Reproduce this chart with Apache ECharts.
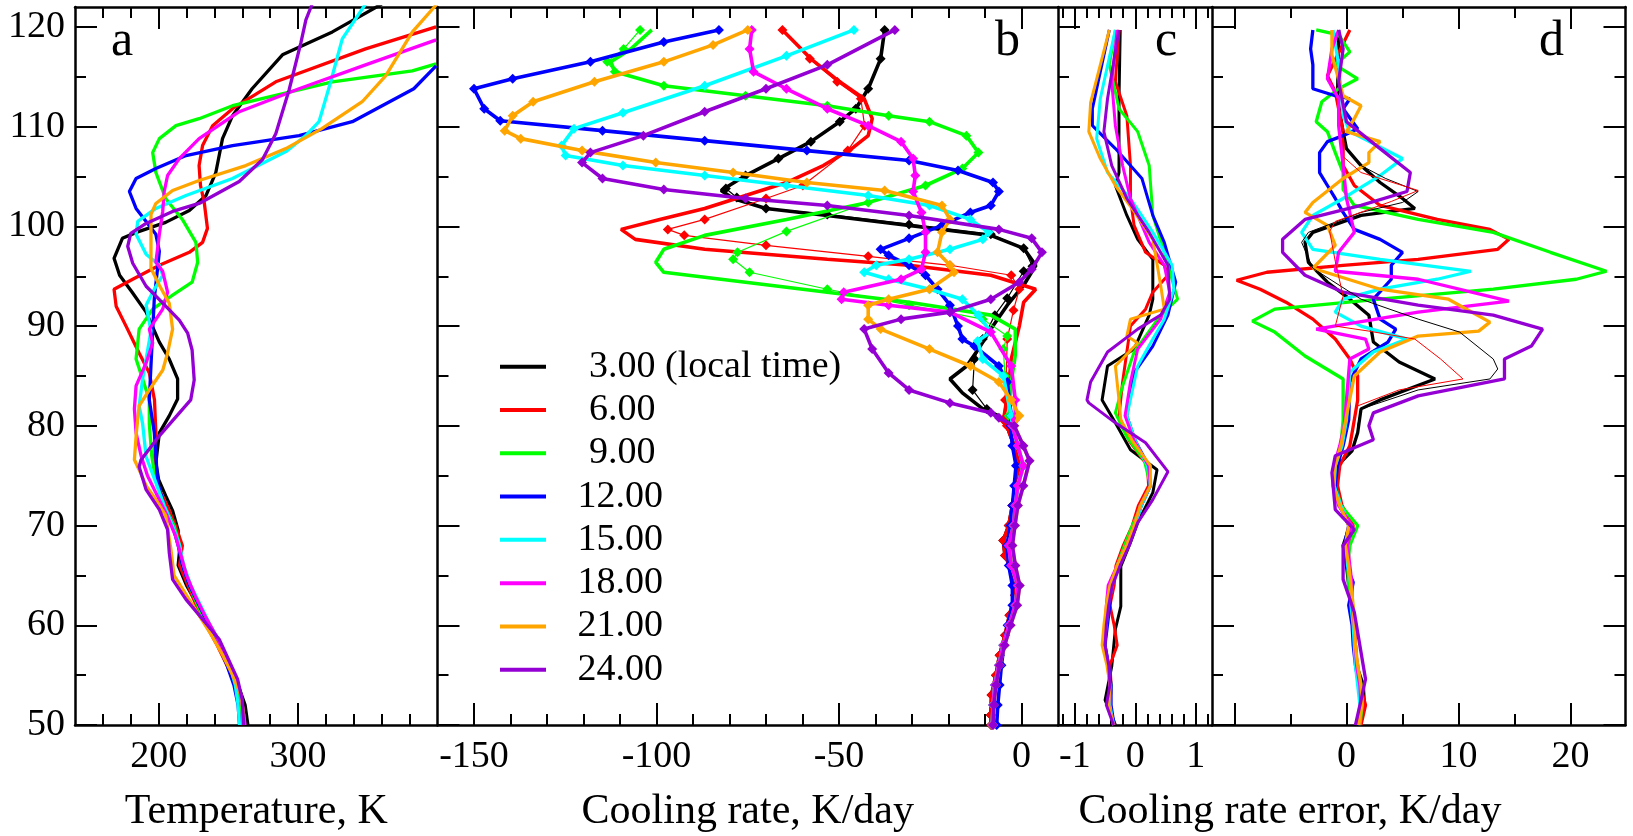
<!DOCTYPE html>
<html>
<head>
<meta charset="utf-8">
<title>Cooling rate profiles</title>
<script src="https://cdn.jsdelivr.net/npm/echarts@6/dist/echarts.min.js"></script>
<style>
    html, body { margin: 0; padding: 0; background: #fff; }
    #main { width: 1633px; height: 836px; }
</style>
</head>
<body>
<div id="main"></div>
<script>
    // ---- legend names / colours (xmgrace defaults) ----
    var times = ['3.00 (local time)', '6.00', '9.00', '12.00', '15.00', '18.00', '21.00', '24.00'];
    var colors = ['#000000', '#ff0000', '#00ff00', '#0000ff', '#00ffff', '#ff00ff', '#ffa500', '#9400d3'];

    // ---- ticks ----
    var yMajor = [50, 60, 70, 80, 90, 100, 110, 120];
    var yMinor = [55, 65, 75, 85, 95, 105, 115];
    var tempMajor = [200, 300];
    var tempMinor = [160, 180, 220, 240, 260, 280, 320, 340, 360, 380];
    var crMajor = [-150, -100, -50, 0];
    var crMinor = [-140, -130, -120, -110, -90, -80, -70, -60, -40, -30, -20, -10];
    var errCMajor = [-1, 0, 1];
    var errCMinor = [-1.2, -0.8, -0.6, -0.4, -0.2, 0.2, 0.4, 0.6, 0.8, 1.2];
    var errDMajor = [-10, 0, 10, 20];
    var errDLabels = [0, 10, 20];
    var errDMinor = [-5, 5, 15];

    // ---- panel a: temperature [K, km] ----
    var temp03 = [[360,122.3],[324.6,119.5],[288.8,117.2],[267,113.8],[253,111.1],[245.8,108.8],[241,105.4],[234,103.1],[222,101.6],[205,100.4],[184,99.4],[174,98.8],[168,96.8],[172,95.1],[181,93.4],[191,91.4],[200.5,88.4],[207.6,86.7],[213.6,84.7],[213.6,82.7],[207.6,81],[200.5,79.3],[198,76.3],[200,74.6],[205,73],[210,71.5],[214,69.5],[215,67.5],[214,66],[220,64],[228,62],[236,60],[244,58],[251,56],[257,54],[262,52],[264,50]];
    var temp06 = [[399,120],[348.4,117.8],[284,114.5],[253,111.8],[238.7,110.1],[231.5,108.1],[229,106.1],[230,104.1],[232.7,102.4],[235,99.8],[231.5,98.4],[222,97.4],[200.5,96.1],[181.4,94.7],[168,93.7],[169.5,92],[176.6,90],[186,87.3],[193.3,85.3],[197,82.6],[198,79.3],[197,76],[199,74],[206,72],[212,70],[217,68],[215,66],[221,64],[227,62],[234,60],[242,58],[249,56],[255,54],[259,52],[261,50]];
    var temp09 = [[399,116.3],[381.9,115.6],[324.6,114.5],[253,112.1],[229,110.8],[212.4,110.1],[200.5,108.8],[195.7,107.4],[198,105.4],[205,102.8],[217,100.7],[226.7,98.4],[228,96.4],[224,94.4],[210,93.1],[195.7,91.7],[186,89.7],[183.8,86.7],[188.5,84.7],[193.3,82.6],[193.3,80.2],[195,77],[198,74.5],[204,72],[211,70],[215,68],[217,66],[222,64],[228,62],[235,60],[243,58],[250,56],[255,54],[258,52],[260,50]];
    var temp12 = [[399,116.1],[383,113.8],[338.9,110.5],[300.7,109.1],[253,108.1],[219.6,107.1],[198,105.8],[183.8,104.8],[179,103.5],[183.8,101.8],[191,100.5],[198,99.2],[200.5,97.5],[199,95.5],[196.9,92.8],[195.7,89.5],[194.5,86.1],[193.3,82.6],[196.9,79.3],[199.3,74.3],[204,72],[210,70],[214,68],[217,66],[222,64],[229,62],[236,60],[243,58],[249,56],[254,54],[257,52],[258,50]];
    var temp15 = [[348.4,122.3],[331.7,118.8],[323.4,114.5],[315,110.5],[305.5,109.1],[291.2,107.5],[253,104.8],[219.6,103.1],[198,101.8],[185,100.5],[183.8,99.2],[191,97.2],[200.5,96.1],[202.9,95.1],[195.7,93.4],[191,92.1],[194.5,89.5],[191,86.7],[188.5,84.7],[186,82],[188.5,80.2],[191,76.9],[198,74.3],[204,72],[210,70],[215,68],[218,66],[223,64],[230,62],[237,60],[245,58],[251,56],[255,54],[257,52],[258,50]];
    var temp18 = [[399,118.7],[348.4,116.2],[300.7,113.8],[257.8,111.5],[229,108.8],[214.8,106.8],[206.4,105.1],[204,103.5],[202.9,101.5],[200.5,99.2],[198,96.4],[202.9,95.5],[206.4,93.4],[202.9,91.7],[193.3,89.7],[195.7,88.3],[191,86.3],[183.8,84],[182.6,81.7],[183.8,79.3],[187.4,77],[192,75],[199,73],[206,71],[212,69],[216,67],[220,65],[226,63],[233,61],[241,59],[248,57],[254,55],[259,53],[261,51],[262,50]];
    var temp21 = [[399,122.2],[382,119.5],[362.8,115.1],[346,112.5],[317,109.8],[291.2,107.8],[262.5,106.1],[229,104.6],[210,103.6],[198,102.3],[194.5,101.2],[194.5,98.4],[194.5,95.8],[200.5,94.1],[207.6,92.3],[210,89.7],[206.4,87.3],[203,85.6],[193.3,83.6],[186,82],[184,79.3],[182.6,76.6],[186,75.6],[191,74],[198,72.6],[205,71],[208.8,67.6],[211,65],[220,63],[229,61],[238,59],[246,57],[253,55],[259,53],[261,51],[261,50]];
    var temp24 = [[311.5,122.8],[305.6,120.7],[302,118.4],[293.6,113.7],[284,109.3],[274.5,106.7],[257.8,104.5],[229,102.3],[210,101.5],[191,100.3],[180,99.3],[177.8,98],[181.4,96.3],[191,94],[203,92.3],[214.8,90.6],[220.8,89.3],[224,87.6],[225.5,84.6],[223,82.6],[200.5,79],[187.4,76.6],[186,75.9],[191,73.6],[200.5,71.6],[206.4,69.6],[207.6,67.3],[210,64.6],[219.6,62.6],[231.5,60.6],[243.4,58.6],[256.6,54.6],[260,52.5],[261,50]];

    // ---- panel b: cooling rate [K/day, km], thick = reference ----
    var cool03 = [[-37.5,119.7],[-38.6,116.8],[-42,113.8],[-45.4,111.8],[-49.8,110.5],[-57.7,108.5],[-66.6,106.8],[-75.6,105.1],[-82.3,103.6],[-79,102.8],[-70,101.8],[-53.2,101.1],[-30.8,100.1],[-8.4,99.1],[0.6,97.8],[3.9,96.1],[0.6,94.1],[-3.9,92.1],[-8.4,89.7],[-11.8,87.7],[-15,86],[-19.6,84.7],[-16.2,83.3],[-10.6,81.7],[-6.2,81],[-4,80],[-2,78],[-0.5,76],[-1.5,74],[-2.5,72],[-3.5,70],[-5,68.5],[-4.5,67],[-2,65],[-1.8,63],[-3.3,61],[-4.5,59],[-6,57],[-7,55],[-8.2,53],[-8.4,51],[-8.3,50]];
    var cool06 = [[-65.5,119.7],[-57.7,116.8],[-49.8,114.5],[-43.1,112.8],[-40.9,110.8],[-42,109.1],[-46.5,107.8],[-54.3,106.1],[-64.4,104.4],[-75.6,103.1],[-86.8,101.8],[-99.1,100.7],[-109.7,99.7],[-105.8,98.7],[-86.8,97.7],[-53.2,96.7],[-30.8,96.1],[-8.4,95.1],[3.9,93.7],[0.6,92.4],[-0.6,90],[-2.8,86.7],[-3.9,82.6],[-5,80.6],[-4,80],[-2,78],[-0.5,76],[-1.5,74],[-2.5,72],[-3.5,70],[-5,68.5],[-4.5,67],[-2,65],[-1.8,63],[-3.3,61],[-4.5,59],[-6,57],[-7,55],[-8.2,53],[-8.4,51],[-8.3,50]];
    var cool09 = [[-101.3,119.7],[-107,117.8],[-112.5,116.5],[-111.4,115.5],[-98,114.1],[-75.6,113.1],[-53.2,112.1],[-36.4,111.1],[-25.2,110.5],[-15.1,109.1],[-11.8,107.4],[-16.2,105.8],[-26.3,104.1],[-42,102.4],[-64.4,100.7],[-86.8,99.1],[-98,97.7],[-100.2,96.4],[-98,95.4],[-75.6,94.4],[-53.2,93.4],[-30.8,92.4],[-8.4,91.1],[-1.7,89.7],[-1.7,87.1],[-2.8,84.4],[-3.4,81],[-2.5,80],[-1,78],[0.5,76],[-1,74],[-1.7,72],[-2.2,70],[-3.5,68],[-2.8,66],[-1,64],[-1.7,62],[-3.4,60],[-5,58],[-6.2,56],[-7.3,54],[-7.8,52],[-8,50]];
    var cool12 = [[-82.9,119.7],[-98,118.5],[-118.1,116.5],[-139.4,114.8],[-150,113.8],[-147.2,111.8],[-142.8,110.6],[-114.8,109.6],[-86.8,108.6],[-58.8,107.6],[-30.8,106.6],[-17.4,105.6],[-7.8,104.4],[-6.2,103.5],[-8.4,102.1],[-14,101.4],[-21.8,100.1],[-30.8,98.8],[-38.6,97.7],[-36.4,97.1],[-30.8,96.1],[-26.3,95.1],[-23,93.7],[-19.6,92.1],[-17.4,90],[-16.2,88.7],[-12.9,88],[-6.2,86],[-3.9,84.4],[-2.8,81],[-3,80],[-2.5,78],[-1.5,76],[-2,74],[-2.5,72],[-3,70],[-4,68],[-3.5,66],[-2.5,64],[-2.5,62],[-3.8,60],[-4.8,58],[-5.5,56],[-6,54],[-6.5,52],[-6.8,50]];
    var cool15 = [[-45.9,119.7],[-64.4,117.1],[-86.8,114.1],[-109.2,111.4],[-122.6,109.8],[-126,108.1],[-124.9,107.1],[-109.2,106.1],[-86.8,105.1],[-64.4,104.1],[-42,103.1],[-25.2,102.1],[-14,100.7],[-9,99.4],[-10.6,98.7],[-19.6,97.7],[-30.8,96.7],[-39.8,96.1],[-43.1,95.4],[-36.4,94.7],[-25.2,93.7],[-16.2,92.7],[-11.8,91.1],[-8.4,89.4],[-12,88.5],[-10.6,86.7],[-5,85],[-2.8,81],[-2.5,80],[-1,78],[0.5,76],[-1,74],[-1.7,72],[-2.2,70],[-3.5,68],[-2.8,66],[-1,64],[-1.7,62],[-3.4,60],[-5,58],[-6.2,56],[-7.3,54],[-7.8,52],[-8,50]];
    var cool18 = [[-73.9,119.7],[-74.5,117.8],[-73.4,115.5],[-64.4,113.8],[-53.2,111.8],[-42,110.1],[-33,108.5],[-29.7,106.8],[-29.1,105.1],[-29.7,103.5],[-27.4,101.4],[-26.3,99.4],[-26.3,97.4],[-27.4,95.7],[-33,94.7],[-48.7,93.4],[-49.3,92.7],[-36.4,92.1],[-19.6,91.4],[-8.4,89.4],[-2.8,86],[-1.7,82.6],[-1.7,80.6],[-2.5,80],[-1,78],[0.5,76],[-1,74],[-1.7,72],[-2.2,70],[-3.5,68],[-2.8,66],[-1,64],[-1.7,62],[-3.4,60],[-5,58],[-6.2,56],[-7.3,54],[-7.8,52],[-8,50]];
    var cool21 = [[-75,119.7],[-84.5,118.2],[-98,116.5],[-117,114.5],[-133.8,112.5],[-139.4,111.1],[-141.6,109.6],[-137.2,108.8],[-120.4,107.6],[-100.2,106.4],[-79,105.4],[-58.8,104.4],[-37.5,103.6],[-21.8,102.1],[-19.6,100.7],[-21.8,99.4],[-23,97.4],[-19.6,96.1],[-18.5,95.4],[-25.2,93.7],[-36.4,92.7],[-42,92.1],[-42,90.7],[-38.6,89.7],[-25.2,87.7],[-14,86],[-6.2,84.4],[-2.8,82.6],[-0.6,81],[-2,80],[0.5,78],[2.2,76.5],[0.5,74],[-1,72],[-1.8,70],[-2.5,68],[-1.7,66],[-0.5,64],[-1.2,62],[-3,60],[-4.6,58],[-6,56],[-7,54],[-7.6,52],[-7.8,50]];
    var cool24 = [[-34.7,119.7],[-53.2,116.2],[-70,113.8],[-86.8,111.5],[-103.6,109.1],[-118.1,107.4],[-120.4,106.4],[-114.8,104.8],[-98,103.7],[-75.6,102.8],[-53.2,102.1],[-30.8,101.1],[-6.2,99.7],[2.8,98.8],[5.6,97.4],[2.8,95.7],[-0.6,94.4],[-8.4,92.7],[-19.6,91.4],[-33,90.7],[-43.1,89.7],[-40.9,87.7],[-36.4,85.3],[-30.8,83.6],[-19.6,82.3],[-8.4,81.3],[-6.2,80.8],[-2,80],[0.5,78],[2.2,76.5],[0.5,74],[-1,72],[-1.8,70],[-2.5,68],[-1.7,66],[-0.5,64],[-1.2,62],[-3,60],[-4.6,58],[-6,56],[-7,54],[-7.6,52],[-7.8,50]];
    // thin lines with diamonds (parameterisation), where they differ from the thick ones
    var coolThin03 = [[-37.5,119.7],[-38.6,116.8],[-42,113.8],[-45.4,111.8],[-49.8,110.5],[-57.7,108.5],[-66.6,106.8],[-75.6,105.1],[-81,103.8],[-78,102.9],[-70,101.8],[-53.2,101.2],[-30.8,100.2],[-8.4,99.2],[0.6,97.8],[3,96],[0.6,95.5],[-3.9,92.8],[-7.3,91.1],[-10.6,88.7],[-12.9,86.7],[-13.4,83.6],[-9.5,81.7],[-4,80.3],[-2,78],[-0.5,76],[-1.5,74],[-2.5,72],[-3.5,70],[-5,68.5],[-4.5,67],[-2,65],[-1.8,63],[-3.3,61],[-4.5,59],[-6,57],[-7,55],[-8.2,53],[-8.4,51],[-8.3,50]];
    var coolThin06 = [[-65.5,119.7],[-58,116.8],[-50.5,114.5],[-44,112.8],[-43,110.1],[-47.6,107.6],[-59.9,104.1],[-70,102.8],[-86.8,100.7],[-96.9,99.7],[-92.4,99.1],[-70,98.1],[-42,97],[-19.6,96.1],[-2.8,95.1],[-0.6,93.7],[-2.2,91.6],[-3.9,88.7],[-4.2,85],[-4.5,82.6],[-5,80.6],[-4,80],[-2,78],[-0.5,76],[-1.5,74],[-2.5,72],[-3.5,70],[-5,68.5],[-4.5,67],[-2,65],[-1.8,63],[-3.3,61],[-4.5,59],[-6,57],[-7,55],[-8.2,53],[-8.4,51],[-8.3,50]];
    var coolThin09 = [[-104.5,119.7],[-109,117.8],[-113.5,116.5],[-111.4,115.5],[-98,114.1],[-75.6,113.1],[-53.2,112.1],[-36.4,111.1],[-25.2,110.5],[-15.1,109.1],[-11.8,107.4],[-16.2,105.8],[-26.3,104.1],[-42,102.4],[-64.4,99.5],[-77.8,97.4],[-79,96.7],[-74.5,95.4],[-53.2,93.7],[-30.8,92.1],[-10.6,90.7],[-3.9,89],[-5,87.7],[-4.5,85],[-3.5,81],[-2.5,80],[-1,78],[0.5,76],[-1,74],[-1.7,72],[-2.2,70],[-3.5,68],[-2.8,66],[-1,64],[-1.7,62],[-3.4,60],[-5,58],[-6.2,56],[-7.3,54],[-7.8,52],[-8,50]];

    // ---- panel c: cooling rate error, small scale [K/day, km] ----
    var errC03 = [[-0.25,119.7],[-0.27,112.8],[-0.27,105.4],[-0.33,104.1],[-0.14,101.1],[0.04,98.7],[0.29,96.7],[0.29,92.7],[0.23,91.1],[-0.02,87.7],[-0.46,86],[-0.55,82.6],[-0.33,80.3],[-0.08,77.6],[0.36,75.6],[0.29,73.3],[0.04,70.3],[-0.08,68.3],[-0.24,65.9],[-0.24,61.9],[-0.33,59.6],[-0.39,55.9],[-0.5,52.5],[-0.36,50.5],[-0.33,50]];
    var errC06 = [[-0.27,119.7],[-0.33,114.5],[-0.14,111.1],[-0.08,106.1],[-0.08,102.8],[-0.02,100.1],[0.17,97.4],[0.48,96.1],[0.54,95.1],[0.29,93.4],[0.17,91.7],[-0.08,90],[-0.21,84.4],[-0.27,81],[-0.1,78.5],[0.2,76],[0.22,74],[0.05,72],[-0.05,70],[-0.2,68],[-0.32,66],[-0.35,64],[-0.42,62],[-0.35,60],[-0.3,58],[-0.42,56],[-0.4,54],[-0.42,52],[-0.35,50]];
    var errC09 = [[-0.33,119.7],[-0.43,116.2],[-0.27,111.8],[0.04,109.5],[0.23,106.1],[0.29,101.1],[0.48,97.4],[0.7,92.7],[0.42,91.1],[-0.02,87.4],[-0.21,84],[-0.33,81.3],[-0.15,79],[0.15,76.5],[0.25,74],[0.1,72],[-0.05,70],[-0.18,68],[-0.3,66],[-0.42,64],[-0.45,62],[-0.48,60],[-0.5,58],[-0.45,56],[-0.4,54],[-0.42,52],[-0.35,50]];
    var errC12 = [[-0.43,119.7],[-0.71,111.8],[-0.71,110.1],[-0.33,107.8],[0.11,104.8],[0.29,101.1],[0.48,98.4],[0.67,94.4],[0.54,91.1],[0.29,88],[-0.02,85.3],[-0.14,81],[0,78.5],[0.22,76],[0.25,74],[0.1,72],[0,70],[-0.15,68],[-0.28,66],[-0.4,64],[-0.42,62],[-0.46,60],[-0.5,58],[-0.44,56],[-0.4,54],[-0.4,52],[-0.35,50]];
    var errC15 = [[-0.33,119.7],[-0.58,112.8],[-0.64,108.8],[-0.46,105.4],[-0.08,102.8],[0.29,99.4],[0.61,96.1],[0.64,93.7],[0.48,90.7],[0.29,88.7],[0.04,86],[-0.14,81],[0,78.5],[0.2,76],[0.25,74],[0.1,72],[0,70],[-0.15,68],[-0.3,66],[-0.38,64],[-0.45,62],[-0.48,60],[-0.52,58],[-0.45,56],[-0.42,54],[-0.42,52],[-0.36,50]];
    var errC18 = [[-0.3,119.7],[-0.39,114.5],[-0.33,110.1],[-0.21,106.1],[-0.08,102.8],[0.23,98.4],[0.48,96.1],[0.57,93.4],[0.42,90.7],[0.04,87.7],[-0.08,84.4],[-0.17,81],[-0.02,78.5],[0.22,76],[0.25,74],[0.08,72],[-0.02,70],[-0.15,68],[-0.3,66],[-0.45,64],[-0.48,62],[-0.5,60],[-0.52,58],[-0.46,56],[-0.42,54],[-0.44,52],[-0.36,50]];
    var errC21 = [[-0.43,119.7],[-0.74,112.4],[-0.77,109.5],[-0.58,106.8],[-0.33,104.1],[-0.02,101.5],[0.29,98.7],[0.42,94.1],[0.48,91.7],[-0.08,90.7],[-0.14,89],[0.04,88.3],[-0.33,86],[-0.27,82.6],[-0.24,80.6],[-0.05,78.5],[0.25,76],[0.25,74],[0.08,72],[-0.02,70],[-0.15,68],[-0.3,66],[-0.42,64],[-0.48,62],[-0.52,60],[-0.55,58],[-0.47,56],[-0.42,54],[-0.44,52],[-0.36,50]];
    var errC24 = [[-0.27,119.7],[-0.46,112.8],[-0.52,109.5],[-0.39,106.1],[-0.14,102.8],[0.23,99.4],[0.54,96.1],[0.57,92.7],[0.42,91.1],[0.04,89.7],[-0.46,87.4],[-0.74,84.4],[-0.8,82.6],[-0.77,82.3],[-0.33,80.3],[0.17,78.3],[0.54,75.4],[0.29,72.6],[0.04,70.3],[-0.1,68],[-0.25,66],[-0.38,64],[-0.44,62],[-0.48,60],[-0.5,58],[-0.44,56],[-0.42,54],[-0.48,52],[-0.36,50]];

    // ---- panel d: cooling rate error, large scale [K/day, km] ----
    var errD03 = [[-0.7,119.7],[-0.8,112.8],[-0.3,109.5],[0,107.8],[1.3,106.1],[3,104.4],[5,102.8],[6.1,101.8],[1.3,101.1],[-3,99.4],[-3.7,98.4],[-3.4,96.4],[-1.7,94.4],[0.3,92.7],[2,91.1],[2.4,88.4],[4.7,86.4],[7.9,84.7],[3,82.6],[1.3,81.7],[1,79.3],[0.5,77.5],[-0.8,76],[-1,74],[-0.6,72],[0.3,70],[-0.3,68],[0,66],[0.2,64],[0.5,62],[0.7,60],[0.8,58],[0.9,56],[1.5,54],[1.6,52],[1.2,50]];
    var errD06 = [[0.3,119.7],[-1.7,115.1],[-1,113.5],[-0.3,109.5],[-0.3,106.1],[0.7,104.1],[3,102.1],[8.1,100.7],[12.8,99.7],[14.5,98.7],[13.5,97.7],[6.4,96.7],[-0.3,96.1],[-7.1,95.4],[-9.8,94.6],[-7.7,93.7],[-5.4,92.4],[-3,90.7],[-1,88.7],[0.3,86.7],[1,85],[1,82.6],[0.7,80.6],[0.3,78],[-0.6,76],[-0.8,74],[-0.4,72],[0.6,70],[0.2,68],[0.1,66],[0.3,64],[0.4,62],[0.8,60],[0.7,58],[1,56],[1.2,54],[1.7,52],[1.3,50]];
    var errD09 = [[-2.7,119.7],[-0.7,119.2],[0.3,117.5],[-1,116.2],[1,114.8],[-0.7,113.8],[-2.2,112.5],[-2.7,110.5],[-1.7,109.5],[-1,107.4],[-0.3,105.4],[-0.3,103.7],[0.7,102.1],[6.4,100.7],[13.1,99.4],[18.2,97.4],[23.2,95.5],[20.5,94.7],[13.1,93.7],[3,92.7],[-6.4,91.7],[-8.4,90.5],[-6.4,89.4],[-3.7,87],[-0.3,84.7],[-0.3,80.6],[-0.5,78],[-0.9,76],[-1,74],[-0.5,72],[1,70],[0.3,68],[0.1,66],[0.2,64],[0.4,62],[0.6,60],[0.8,58],[0.9,56],[1.3,54],[1.4,52],[1.2,50]];
    var errD12 = [[-3,119.7],[-3.2,117.8],[-3,116.2],[-3,113.8],[-1,113.1],[0.3,112.8],[-0.3,111.8],[1,109.8],[-0.3,109.1],[-1.7,108.5],[-2.4,107.4],[-2.4,105.4],[-1.7,104.1],[-1,102.8],[-0.3,101.4],[0.7,99.7],[3,98.7],[5,97.4],[4,96.1],[4,94.7],[2.4,92.7],[3,90.7],[4.4,89.7],[3.7,88.4],[1.3,86.7],[0.3,84.4],[0.2,80.6],[-0.3,78],[-0.8,76],[-1,74],[-0.6,72],[0.2,70],[-0.2,68],[0,66],[0.6,64.3],[0.2,62],[0.5,60],[0.6,58],[0.8,56],[1.1,54],[1.3,52],[1,50]];
    var errD15 = [[-1.2,119.7],[-0.7,116.2],[-0.3,111.1],[0.3,109.5],[5,106.8],[3,105.1],[-0.3,102.8],[-3,101.1],[-4,99.4],[-3,97.7],[3,96.7],[11.1,95.5],[8.1,94.7],[3,93.7],[-0.3,92.7],[-1,91.4],[1.3,90],[5.4,88.7],[2.4,87.4],[0.3,85.4],[0,80.6],[-0.4,78],[-1,76],[-1.1,74],[-0.5,72],[0.3,70],[0,68],[0.1,66],[0.4,64],[0.4,62],[0.6,60],[0.7,58],[0.8,56],[1,54],[1.2,52],[1,50]];
    var errD18 = [[-0.7,119.7],[-1.3,117.8],[-1.7,114.8],[-0.7,112.8],[-0.7,110.1],[-0.3,106.1],[0,102.8],[0.7,99.4],[-0.7,97.4],[-1,95.5],[6.4,94.7],[14.5,92.5],[6.4,91.4],[-2.7,89.7],[1.7,88.7],[2,87.7],[0.3,86.7],[0,82.6],[-0.2,80],[-0.6,78],[-1.1,76],[-1.2,74],[-0.7,72],[0.5,70],[0.1,68],[0.3,66],[0.5,64],[0.5,62],[0.7,60],[0.8,58],[0.9,56],[1.2,54],[1.3,52],[1.1,50]];
    var errD21 = [[-1.3,119.7],[-1.3,117.2],[-0.3,113.1],[1.3,112.1],[0.7,110.8],[0,109.5],[3,108.5],[2,107.4],[2,106.4],[-0.3,104.8],[-3,102.4],[-3.7,101.4],[-1.7,100.1],[-1,98.1],[-3,95.8],[3,93.7],[9.1,92.7],[12.8,90.4],[11.8,89.5],[6.4,89],[3,87.4],[0.7,85],[0,81],[-0.5,78],[-1,76],[-1.2,74],[-0.6,72],[0.2,70],[-0.1,68],[0.2,66],[0.4,64],[0.6,62],[0.7,60],[0.8,58],[1,56],[1.3,54],[1.4,52],[1.1,50]];
    var errD24 = [[-0.7,119.7],[-0.3,117.8],[-0.7,114.5],[0,110.5],[3,107.8],[5.7,105.4],[5.4,103.5],[1.3,102.1],[-3.7,100.7],[-5.7,98.7],[-5.7,97.4],[-3.7,95.1],[-0.3,93.4],[6.4,92.1],[13.1,91.1],[17.5,89.7],[16.5,88],[14.1,86.7],[14.1,84.7],[6.4,83],[2.4,81.3],[2,80],[2.4,78.6],[-1,77],[-1.3,75.3],[-1,71.6],[0.7,69.6],[-0.3,68],[-0.3,64.6],[0.7,61.3],[1.7,54.6],[1.3,52.5],[0.8,50]];
    var errDThin03 = [[-0.3,109.5],[0,107.8],[1.3,106.1],[3.5,104.8],[6.4,103.5],[5,102.4],[1.3,101.4],[-3.4,99.4],[-4,98.4],[-3,95.8],[1.3,92.7],[6.4,90.7],[10.1,89.4],[13.1,86.7],[13.5,85.7],[12.8,84.7],[6.4,83.6],[1.3,81.7],[1,80]];
    var errDThin06 = [[-0.3,107],[1.3,105.4],[6.4,103.6],[4,102.5],[1.5,101.5],[-1,100.5],[-1.5,99.5],[-1,96.5],[-0.3,93],[-1,90],[2,89.5],[6.1,88.7],[8.4,86.7],[10.4,84.7],[4.7,83.6],[1,82]];

    var tempSets = [temp03, temp06, temp09, temp12, temp15, temp18, temp21, temp24];
    var coolSets = [cool03, cool06, cool09, cool12, cool15, cool18, cool21, cool24];
    var coolThinSets = [coolThin03, coolThin06, coolThin09, cool12, cool15, cool18, cool21, cool24];
    var errCSets = [errC03, errC06, errC09, errC12, errC15, errC18, errC21, errC24];
    var errDSets = [errD03, errD06, errD09, errD12, errD15, errD18, errD21, errD24];

    var FONT = "'Liberation Serif', 'Times New Roman', serif";

    var panels = [
        {left: 75, width: 362.5, min: 140, max: 400, major: tempMajor, labels: tempMajor, minor: tempMinor, name: 'Temperature, K'},
        {left: 437.5, width: 620.5, min: -160, max: 10, major: crMajor, labels: crMajor, minor: crMinor, name: 'Cooling rate, K/day'},
        {left: 1058, width: 154, min: -1.28, max: 1.27, major: errCMajor, labels: errCMajor, minor: errCMinor, name: ''},
        {left: 1212, width: 413.5, min: -12, max: 24.9, major: errDMajor, labels: errDLabels, minor: errDMinor, name: ''}
    ];

    var AXIS_LINE = {show: true, onZero: false, lineStyle: {color: '#000', width: 2.5}};
    var NO_LINE = {show: false, onZero: false};

    function tick(values, len) {
        return {show: true, inside: true, length: len, customValues: values, lineStyle: {color: '#000', width: 2}};
    }

    var grids = [], xAxes = [], yAxes = [], series = [];
    panels.forEach(function (p, i) {
        grids.push({left: p.left, width: p.width, top: 7, height: 718, containLabel: false, outerBoundsMode: 'none'});
        var base = {gridIndex: i, type: 'value', min: p.min, max: p.max, splitLine: {show: false}};
        // bottom, labelled
        xAxes.push(Object.assign({}, base, {
            position: 'bottom', axisLine: AXIS_LINE, axisTick: tick(p.major, 22),
            axisLabel: {show: true, customValues: p.labels, margin: 13, fontSize: 38, fontFamily: FONT, color: '#000'},
            name: p.name, nameLocation: 'middle', nameGap: 66,
            nameTextStyle: {fontSize: 42, fontFamily: FONT, color: '#000'}
        }));
        xAxes.push(Object.assign({}, base, {position: 'bottom', axisLine: NO_LINE, axisTick: tick(p.minor, 11), axisLabel: {show: false}}));
        // top, mirrored ticks
        xAxes.push(Object.assign({}, base, {position: 'top', axisLine: AXIS_LINE, axisTick: tick(p.major, 22), axisLabel: {show: false}}));
        xAxes.push(Object.assign({}, base, {position: 'top', axisLine: NO_LINE, axisTick: tick(p.minor, 11), axisLabel: {show: false}}));

        var ybase = {gridIndex: i, type: 'value', min: 50, max: 122, splitLine: {show: false}};
        yAxes.push(Object.assign({}, ybase, {
            position: 'left', axisLine: AXIS_LINE, axisTick: tick(yMajor, 22),
            axisLabel: {show: i === 0, customValues: yMajor, margin: 10, fontSize: 38, fontFamily: FONT, color: '#000'}
        }));
        yAxes.push(Object.assign({}, ybase, {position: 'left', axisLine: NO_LINE, axisTick: tick(yMinor, 11), axisLabel: {show: false}}));
    });
    // right frame of the last panel
    yAxes.push({gridIndex: 3, type: 'value', min: 50, max: 122, position: 'right', splitLine: {show: false},
        axisLine: AXIS_LINE, axisTick: tick(yMajor, 22), axisLabel: {show: false}});
    yAxes.push({gridIndex: 3, type: 'value', min: 50, max: 122, position: 'right', splitLine: {show: false},
        axisLine: NO_LINE, axisTick: tick(yMinor, 11), axisLabel: {show: false}});

    function addLine(panel, data, color, width, name, z) {
        series.push({
            name: name, type: 'line', xAxisIndex: panel * 4, yAxisIndex: panel * 2,
            data: data, showSymbol: false, symbol: 'none', silent: true, animation: false,
            color: color, lineStyle: {color: color, width: width}, z: z
        });
    }

    for (var k = 0; k < 8; k++) {
        addLine(0, tempSets[k], colors[k], 3.3, times[k], 2 + k);
        addLine(1, coolSets[k], colors[k], 3.6, times[k], 2 + k);
        series.push({
            name: 'param ' + times[k], type: 'line', xAxisIndex: 4, yAxisIndex: 2,
            data: coolThinSets[k], symbol: 'diamond', symbolSize: 10, showSymbol: true, silent: true, animation: false,
            color: colors[k], itemStyle: {color: colors[k]}, lineStyle: {color: colors[k], width: 1.2}, z: 2 + k
        });
        addLine(2, errCSets[k], colors[k], 3.0, times[k], 2 + k);
        addLine(3, errDSets[k], colors[k], 3.3, times[k], 2 + k);
    }
    addLine(3, errDThin03, colors[0], 1, 'thin 3.00', 12);
    addLine(3, errDThin06, colors[1], 1, 'thin 6.00', 12);

    var chart = echarts.init(document.getElementById('main'), null, {renderer: 'canvas'});
    chart.setOption({
        animation: false,
        backgroundColor: '#fff',
        grid: grids,
        xAxis: xAxes,
        yAxis: yAxes,
        legend: {
            data: times, orient: 'vertical', left: 495, top: 340, padding: 5,
            icon: 'rect', itemWidth: 46, itemHeight: 4, itemGap: 0, selectedMode: false,
            textStyle: {fontSize: 38, fontFamily: FONT, color: '#000', lineHeight: 43.3},
            // numbers are right-aligned in the reference legend
            formatter: function (n) { return (n.charAt(1) === '.' ? '    ' : '  \u2009') + n; }
        },
        graphic: [
            {type: 'text', x: 111, y: 42, style: {text: 'a', font: '50px ' + FONT, fill: '#000', verticalAlign: 'middle'}},
            {type: 'text', x: 995, y: 42, style: {text: 'b', font: '50px ' + FONT, fill: '#000', verticalAlign: 'middle'}},
            {type: 'text', x: 1155, y: 42, style: {text: 'c', font: '50px ' + FONT, fill: '#000', verticalAlign: 'middle'}},
            {type: 'text', x: 1539, y: 42, style: {text: 'd', font: '50px ' + FONT, fill: '#000', verticalAlign: 'middle'}},
            {type: 'text', x: 1290, y: 791, style: {text: 'Cooling rate error, K/day', font: '42px ' + FONT, fill: '#000', align: 'center', verticalAlign: 'top'}}
        ],
        series: series
    });
</script>
</body>
</html>
